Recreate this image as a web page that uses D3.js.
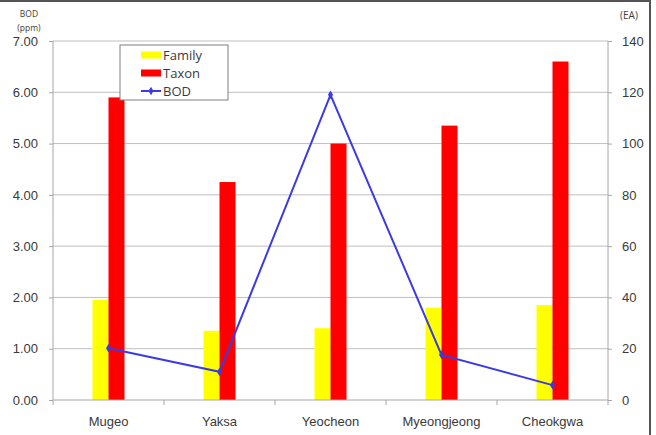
<!DOCTYPE html>
<html>
<head>
<meta charset="utf-8">
<script src="https://cdn.jsdelivr.net/npm/d3@7"></script>
<style>
  body { margin: 0; background: #fff; }
  svg { display: block; font-family: "Open Sans", "Liberation Sans", sans-serif; }
  .axis text { fill: #3a3a3a; font-size: 13px; }
  .axis path, .axis line { stroke: #a6a6a6; }
</style>
</head>
<body>
<svg width="656" height="435"></svg>
<script>
var sites = ["Mugeo", "Yaksa", "Yeocheon", "Myeongjeong", "Cheokgwa"];
var family = [39, 27, 28, 36, 37];
var taxon = [118, 85, 100, 107, 132];
var bod = [1.01, 0.55, 5.95, 0.88, 0.29];
var leftTicks = [0, 1, 2, 3, 4, 5, 6, 7];
var rightTicks = [0, 20, 40, 60, 80, 100, 120, 140];

var svg = d3.select("svg"),
  margin = { top: 41, right: 48, bottom: 35, left: 53 },
  width = +svg.attr("width") - margin.left - margin.right,
  height = +svg.attr("height") - margin.top - margin.bottom;

var x = d3.scaleBand().domain(sites).range([0, width]),
    yL = d3.scaleLinear().domain([0, 7]).range([height, 0]),
    yR = d3.scaleLinear().domain([0, 140]).range([height, 0]);

var barW = 16;

// frame
svg.append("path")
  .attr("d", "M-2,1H650V440")
  .attr("fill", "none")
  .attr("stroke", "#555")
  .attr("stroke-width", 2);

var g = svg.append("g")
  .attr("transform", "translate(" + margin.left + "," + margin.top + ")");

// GRID
g.append("g")
  .selectAll("line")
  .data(leftTicks.slice(1))
  .enter().append("line")
    .attr("x1", 0).attr("x2", width)
    .attr("y1", function(d) { return yL(d); })
    .attr("y2", function(d) { return yL(d); })
    .attr("stroke", "#bfbfbf");

// BARS
var grp = g.selectAll(".site")
  .data(sites)
  .enter().append("g")
    .attr("class", "site")
    .attr("transform", function(d) { return "translate(" + (x(d) + x.bandwidth() / 2) + ",0)"; });

grp.append("rect")
  .attr("x", -barW)
  .attr("width", barW)
  .attr("y", function(d, i) { return yR(family[i]); })
  .attr("height", function(d, i) { return height - yR(family[i]); })
  .attr("fill", "#ffff00");

grp.append("rect")
  .attr("x", 0)
  .attr("width", barW)
  .attr("y", function(d, i) { return yR(taxon[i]); })
  .attr("height", function(d, i) { return height - yR(taxon[i]); })
  .attr("fill", "#ff0000");

// AXES
var ax = g.append("g")
  .attr("class", "axis")
  .attr("transform", "translate(0," + height + ")")
  .call(d3.axisBottom(x).tickSize(0).tickPadding(17));
ax.select(".domain").remove();
ax.append("line").attr("x1", 0).attr("x2", width).attr("stroke", "#a6a6a6");
ax.selectAll(".sep")
  .data(d3.range(sites.length + 1))
  .enter().append("line")
    .attr("x1", function(d) { return d * x.bandwidth(); })
    .attr("x2", function(d) { return d * x.bandwidth(); })
    .attr("y1", 0).attr("y2", 5);

var al = g.append("g")
  .attr("class", "axis")
  .call(d3.axisLeft(yL).tickValues(leftTicks).tickSize(4).tickPadding(11).tickFormat(d3.format(".2f")));

var ar = g.append("g")
  .attr("class", "axis")
  .attr("transform", "translate(" + width + ",0)")
  .call(d3.axisRight(yR).tickValues(rightTicks).tickSize(4).tickPadding(10));
al.select(".domain").attr("d", "M0,0V" + height);
ar.select(".domain").attr("d", "M0,0V" + height);

// BOD LINE
var line = d3.line()
  .x(function(d, i) { return x(sites[i]) + x.bandwidth() / 2; })
  .y(function(d) { return yL(d); });

g.append("path")
  .datum(bod)
  .attr("d", line)
  .attr("fill", "none")
  .attr("stroke", "#3b3be6")
  .attr("stroke-width", 2);

g.selectAll(".pt")
  .data(bod)
  .enter().append("path")
    .attr("class", "pt")
    .attr("d", d3.symbol(d3.symbolDiamond, 22))
    .attr("transform", function(d, i) { return "translate(" + (x(sites[i]) + x.bandwidth() / 2) + "," + yL(d) + ")"; })
    .attr("fill", "#3b3be6");

// AXIS TITLES
svg.append("text").attr("x", 29).attr("y", 17).attr("text-anchor", "middle")
  .attr("font-size", 8.5).attr("fill", "#404040").text("BOD");
svg.append("text").attr("x", 29).attr("y", 31).attr("text-anchor", "middle")
  .attr("font-size", 8.5).attr("fill", "#404040").text("(ppm)");
svg.append("text").attr("x", 629).attr("y", 19).attr("text-anchor", "middle")
  .attr("font-size", 10).attr("fill", "#404040").text("(EA)");

// LEGEND
var leg = svg.append("g").attr("transform", "translate(120,45)");
leg.append("rect").attr("width", 108).attr("height", 55)
  .attr("fill", "#fff").attr("stroke", "#7f7f7f");
var items = ["Family", "Taxon", "BOD"];
var row = leg.selectAll(".item").data(items).enter().append("g")
  .attr("transform", function(d, i) { return "translate(21," + (10 + i * 18) + ")"; });
row.filter(function(d, i) { return i < 2; }).append("rect")
  .attr("y", -3.5).attr("width", 20).attr("height", 7)
  .attr("fill", function(d, i) { return i == 0 ? "#ffff00" : "#ff0000"; });
row.filter(function(d, i) { return i == 2; }).append("line")
  .attr("x1", 0).attr("x2", 20).attr("stroke", "#3b3be6").attr("stroke-width", 2);
row.filter(function(d, i) { return i == 2; }).append("path")
  .attr("d", d3.symbol(d3.symbolDiamond, 22)).attr("transform", "translate(10,0)").attr("fill", "#3b3be6");
row.append("text").attr("x", 22).attr("dy", "0.35em")
  .attr("font-size", 13).attr("fill", "#3a3a3a").text(function(d) { return d; });
</script>
</body>
</html>
